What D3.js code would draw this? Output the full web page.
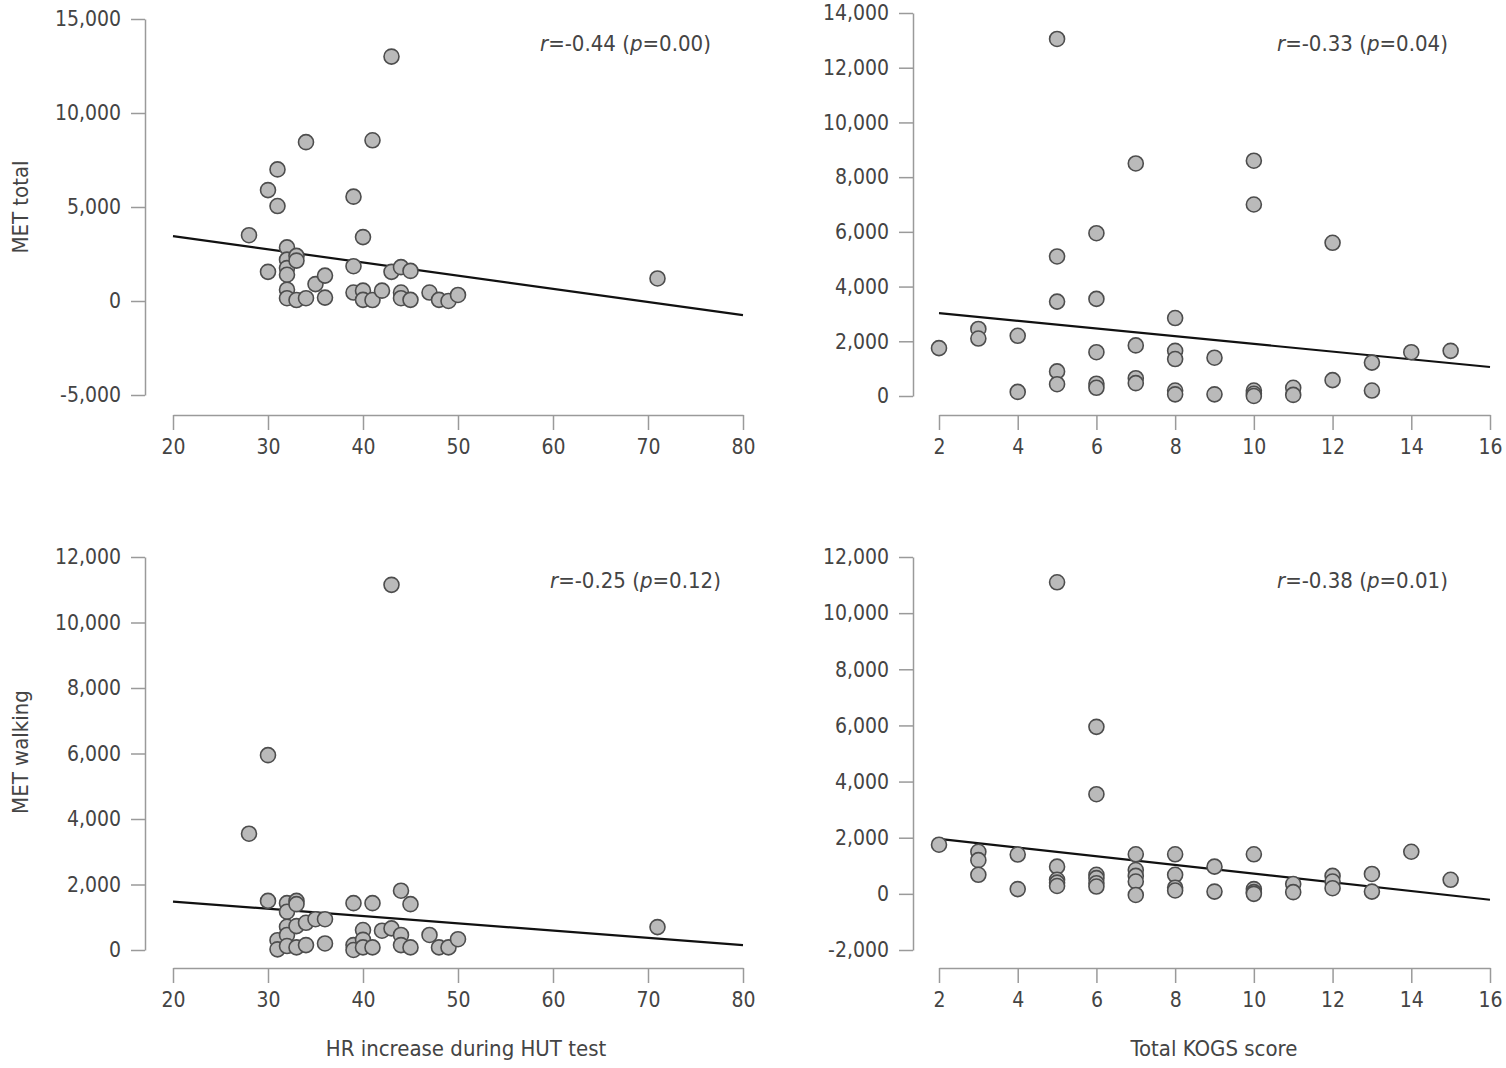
<!DOCTYPE html>
<html lang="en">
<head>
	<meta charset="UTF-8">
	<title>MET vs HR increase / KOGS</title>
	<style>
		body{ margin:0; background:#fff; }
		.axis path, .axis line{
			fill: none;
			stroke: #9a9a9a;
			stroke-width: 1.5;
		}
		.axis text{
			font-family: "DejaVu Sans Condensed", "Liberation Sans Narrow", sans-serif;
			font-stretch: condensed;
			font-size: 21px;
			fill: #444;
		}
		.title, .note{
			font-family: "DejaVu Sans Condensed", "Liberation Sans Narrow", sans-serif;
			font-stretch: condensed;
			font-size: 22px;
			fill: #444;
		}
	</style>
</head>
<body>
	<script src="https://d3js.org/d3.v7.min.js"></script>
	<script>
		// [HR increase, MET total]
		var hrMetTotal = [[28,3500],[30,5900],[30,1550],[31,7000],[31,5050],[32,2850],[32,2200],[32,1750],[32,1400],[32,600],[32,150],
			[33,2400],[33,2150],[33,50],[34,8450],[34,150],[35,900],[36,1350],[36,180],[39,5550],[39,1850],[39,450],[40,3400],
			[40,550],[40,60],[41,8550],[41,50],[42,550],[43,13000],[43,1550],[44,1800],[44,450],[44,150],[45,1600],[45,60],
			[47,450],[48,60],[49,0],[50,320],[71,1200]];
		// [KOGS, MET total]
		var kogsMetTotal = [[2,1750],[3,2450],[3,2100],[4,2200],[4,150],[5,13050],[5,5100],[5,3450],[5,900],[5,430],[6,5950],
			[6,3550],[6,1600],[6,450],[6,300],[7,8500],[7,1850],[7,650],[7,470],[8,2850],[8,1650],[8,1350],[8,200],[8,60],
			[9,1400],[9,60],[10,8600],[10,7000],[10,200],[10,80],[10,0],[11,300],[11,40],[12,5600],[12,580],[13,1220],[13,200],
			[14,1600],[15,1650]];
		// [HR increase, MET walking]
		var hrMetWalk = [[28,3550],[30,5950],[30,1500],[31,300],[31,20],[32,1430],[32,1170],[32,710],[32,460],[32,120],[33,1500],
			[33,1400],[33,730],[33,80],[34,830],[34,150],[35,940],[36,940],[36,200],[39,1430],[39,150],[39,0],[40,610],[40,310],
			[40,80],[41,1430],[41,80],[42,590],[43,11150],[43,660],[44,1810],[44,460],[44,150],[45,1400],[45,80],[47,460],
			[48,80],[49,80],[50,330],[71,700]];
		// [KOGS, MET walking]
		var kogsMetWalk = [[2,1750],[3,1500],[3,1200],[3,680],[4,1400],[4,170],[5,11100],[5,970],[5,500],[5,400],[5,280],
			[6,5950],[6,3550],[6,680],[6,560],[6,380],[6,260],[7,1410],[7,850],[7,640],[7,440],[7,-40],[8,1410],[8,680],[8,220],
			[8,120],[9,970],[9,80],[10,1410],[10,170],[10,60],[10,0],[11,350],[11,60],[12,640],[12,440],[12,200],[13,710],[13,80],
			[14,1500],[15,500]];

		// fitted line: values at the two ends of the x domain
		var fitHrTotal = [3450,-750];
		var fitKogsTotal = [3030,1060];
		var fitHrWalk = [1480,150];
		var fitKogsWalk = [1960,-210];

		var hrTicks = [20,30,40,50,60,70,80];
		var kogsTicks = [2,4,6,8,10,12,14,16];
		var totalTicks = [-5000,0,5000,10000,15000];
		var totalTicks2 = [0,2000,4000,6000,8000,10000,12000,14000];
		var walkTicks = [0,2000,4000,6000,8000,10000,12000];
		var walkTicks2 = [-2000,0,2000,4000,6000,8000,10000,12000];

		var notes = [['-0.44','0.00'],['-0.33','0.04'],['-0.25','0.12'],['-0.38','0.01']];

		var fmt = d3.format(',');
		function yFormat(d){ return fmt(d).replace('\u2212','-'); }

		var svg = d3.select('body').append('svg')
			.attr('width',1506)
			.attr('height',1068);

		var panels = [
			{data:hrMetTotal, fit:fitHrTotal, xd:[20,80], xr:[173,743], xt:hrTicks, yd:[-5000,15000], yr:[395,19], yt:totalTicks,
				ax:145, ay:415, note:notes[0], nx:540, ny:51},
			{data:kogsMetTotal, fit:fitKogsTotal, xd:[2,16], xr:[939,1490], xt:kogsTicks, yd:[0,14000], yr:[396,13], yt:totalTicks2,
				ax:913, ay:415, note:notes[1], nx:1277, ny:51},
			{data:hrMetWalk, fit:fitHrWalk, xd:[20,80], xr:[173,743], xt:hrTicks, yd:[0,12000], yr:[950,557], yt:walkTicks,
				ax:145, ay:968, note:notes[2], nx:550, ny:588},
			{data:kogsMetWalk, fit:fitKogsWalk, xd:[2,16], xr:[939,1490], xt:kogsTicks, yd:[-2000,12000], yr:[950,557], yt:walkTicks2,
				ax:913, ay:968, note:notes[3], nx:1277, ny:588}
		];

		panels.forEach(function(p){
			var x = d3.scaleLinear().domain(p.xd).range(p.xr);
			var y = d3.scaleLinear().domain(p.yd).range(p.yr);
			var g = svg.append('g');

			g.append('g').attr('class','axis')
				.attr('transform','translate('+p.ax+',0)')
				.call(d3.axisLeft(y).tickValues(p.yt).tickSizeInner(14).tickSizeOuter(0).tickPadding(10).tickFormat(yFormat));
			g.append('g').attr('class','axis')
				.attr('transform','translate(0,'+p.ay+')')
				.call(d3.axisBottom(x).tickValues(p.xt).tickSizeInner(15).tickSizeOuter(0).tickPadding(9));

			g.append('line')
				.attr('x1',x(p.xd[0])).attr('y1',y(p.fit[0]))
				.attr('x2',x(p.xd[1])).attr('y2',y(p.fit[1]))
				.attr('stroke','#111').attr('stroke-width',2.2);

			g.selectAll('circle').data(p.data).enter().append('circle')
				.attr('cx',function(d){ return x(d[0]); })
				.attr('cy',function(d){ return y(d[1]); })
				.attr('r',7.5)
				.attr('fill','#bababa')
				.attr('stroke','#4d4d4d')
				.attr('stroke-width',1.6);

			var t = g.append('text').attr('class','note').attr('x',p.nx).attr('y',p.ny);
			t.append('tspan').attr('font-style','italic').text('r');
			t.append('tspan').text('='+p.note[0]+' (');
			t.append('tspan').attr('font-style','italic').text('p');
			t.append('tspan').text('='+p.note[1]+')');
		});

		svg.append('text').attr('class','title').attr('text-anchor','middle')
			.attr('transform','translate(28,207) rotate(-90)').text('MET total');
		svg.append('text').attr('class','title').attr('text-anchor','middle')
			.attr('transform','translate(28,752) rotate(-90)').text('MET walking');
		svg.append('text').attr('class','title').attr('text-anchor','middle')
			.attr('x',466).attr('y',1056).text('HR increase during HUT test');
		svg.append('text').attr('class','title').attr('text-anchor','middle')
			.attr('x',1214).attr('y',1056).text('Total KOGS score');
	</script>
</body>
</html>
